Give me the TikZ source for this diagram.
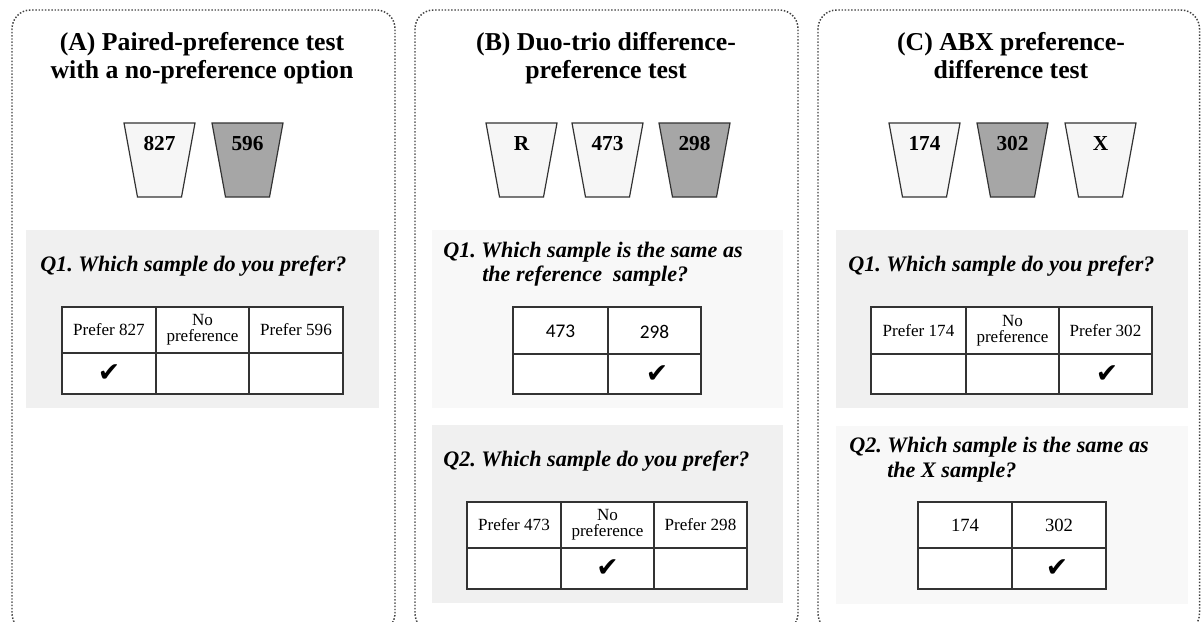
\documentclass[tikz,border=0pt]{standalone}
\usepackage{fontspec}
\setmainfont{Liberation Serif}
\newfontfamily\symfont{DejaVu Sans}
\newfontfamily\calfont{Carlito}
\definecolor{qgray}{HTML}{F0F0F0}
\definecolor{qlight}{HTML}{F8F8F8}
\definecolor{cuplight}{HTML}{F6F6F6}
\definecolor{cupdark}{HTML}{A6A6A6}
\definecolor{edge}{HTML}{333333}
\frenchspacing
\tikzset{
  panel/.style={draw=black!75, line width=1.1pt, dash pattern=on 1.1pt off 1.3pt, rounded corners=14},
  titlefont/.style={font=\fontsize{19.3}{23}\selectfont\bfseries, anchor=base, inner sep=0},
  qtext/.style={font=\fontsize{16.6}{20}\selectfont\bfseries\itshape, anchor=base west, inner sep=0},
  cupline/.style={draw=edge, line width=0.9pt},
  cuplabel/.style={font=\fontsize{16}{18}\selectfont\bfseries, inner sep=0, anchor=base},
  tab/.style={draw=edge, line width=1.1pt},
  cell/.style={font=\fontsize{12.8}{14.5}\selectfont, inner sep=0, align=center},
  calcell/.style={font=\calfont\fontsize{14.5}{15}\selectfont, inner sep=0, anchor=base},
  tick/.style={font=\symfont\fontsize{20}{20}\selectfont, inner sep=0},
}
\newcommand\samplecup[4]{%
  \draw[cupline, fill=#2] (#1,123) -- ++(71,0) -- ++(-13.5,74) -- ++(-44,0) -- cycle;
  \node[cuplabel] (#4) at (#1+35.5,150) {#3};}
\begin{document}
\begin{tikzpicture}[x=0.75pt,y=-0.75pt]
\useasboundingbox (0,0) rectangle (1201,621);
\clip (0,0) rectangle (1201,621);
% panels
\draw[panel] (12,10) rectangle (395,632);
\draw[panel] (415,10) rectangle (798,632);
\draw[panel] (818,10) rectangle (1199.5,632);
% titles
\node[titlefont] (tA1) at (202,50) {(A) Paired-preference test};
\node[titlefont] (tA2) at (202,78) {with a no-preference option};
\node[titlefont] (tB1) at (606,50) {(B) Duo-trio difference-};
\node[titlefont] (tB2) at (606,78) {preference test};
\node[titlefont] (tC1) at (1011,50) {(C) ABX preference-};
\node[titlefont] (tC2) at (1011,78) {difference test};
% cups
\samplecup{124}{cuplight}{827}{cA1}
\samplecup{212}{cupdark}{596}{cA2}
\samplecup{486}{cuplight}{R}{cB1}
\samplecup{572}{cuplight}{473}{cB2}
\samplecup{659}{cupdark}{298}{cB3}
\samplecup{889}{cuplight}{174}{cC1}
\samplecup{977}{cupdark}{302}{cC2}
\samplecup{1065}{cuplight}{X}{cC3}
% question boxes
\fill[qgray] (26,230) rectangle (379,408);
\fill[qlight] (432,230) rectangle (783,408);
\fill[qgray] (432,425) rectangle (783,603);
\fill[qgray] (836,230) rectangle (1188,408);
\fill[qlight] (836,426) rectangle (1188,604);
% questions
\node[qtext] (qA1) at (40,271) {Q1. Which sample do you prefer?};
\node[qtext] (qB1a) at (443,257) {Q1. Which sample is the same as};
\node[qtext] (qB1b) at (482,281) {the reference\ \ sample?};
\node[qtext] (qB2) at (443,466) {Q2. Which sample do you prefer?};
\node[qtext] (qC1) at (848,271) {Q1. Which sample do you prefer?};
\node[qtext] (qC2a) at (849,452) {Q2. Which sample is the same as};
\node[qtext] (qC2b) at (887,477) {the X sample?};
% table A
\draw[tab, fill=white] (62,307) rectangle (343,394);
\draw[tab] (62,353) -- (343,353) (156,307) -- (156,394) (249,307) -- (249,394);
\node[cell] (a11) at (109,330) {Prefer 827};
\node[cell] (a12) at (202.5,330) {No\\[-2.5pt]preference};
\node[cell] (a13) at (296,330) {Prefer 596};
\node[tick] (a21) at (109,373.5) {✔};
% table B1
\draw[tab, fill=white] (513,307) rectangle (701,394);
\draw[tab] (513,354) -- (701,354) (608,307) -- (608,394);
\node[calcell] (b11) at (560.5,337) {473};
\node[calcell] (b12) at (654.5,338) {298};
\node[tick] (b22) at (657,374) {✔};
% table B2
\draw[tab, fill=white] (467,502) rectangle (747,589);
\draw[tab] (467,548) -- (747,548) (561,502) -- (561,589) (654,502) -- (654,589);
\node[cell] (c11) at (514,525) {Prefer 473};
\node[cell] (c12) at (607.5,525) {No\\[-2.5pt]preference};
\node[cell] (c13) at (700.5,525) {Prefer 298};
\node[tick] (c22) at (607.5,568.5) {✔};
% table C1
\draw[tab, fill=white] (871,307) rectangle (1152,394);
\draw[tab] (871,354) -- (1152,354) (966,307) -- (966,394) (1059,307) -- (1059,394);
\node[cell] (d11) at (918.5,330.5) {Prefer 174};
\node[cell] (d12) at (1012.5,330.5) {No\\[-2.5pt]preference};
\node[cell] (d13) at (1105.5,330.5) {Prefer 302};
\node[tick] (d23) at (1107,374) {✔};
% table C2
\draw[tab, fill=white] (918,502) rectangle (1106,589);
\draw[tab] (918,548) -- (1106,548) (1012,502) -- (1012,589);
\node[cell, font=\fontsize{14}{15}\selectfont] (e11) at (965,525) {174};
\node[cell, font=\fontsize{14}{15}\selectfont] (e12) at (1059,525) {302};
\node[tick] (e22) at (1057,568.5) {✔};
\end{tikzpicture}
\end{document}
